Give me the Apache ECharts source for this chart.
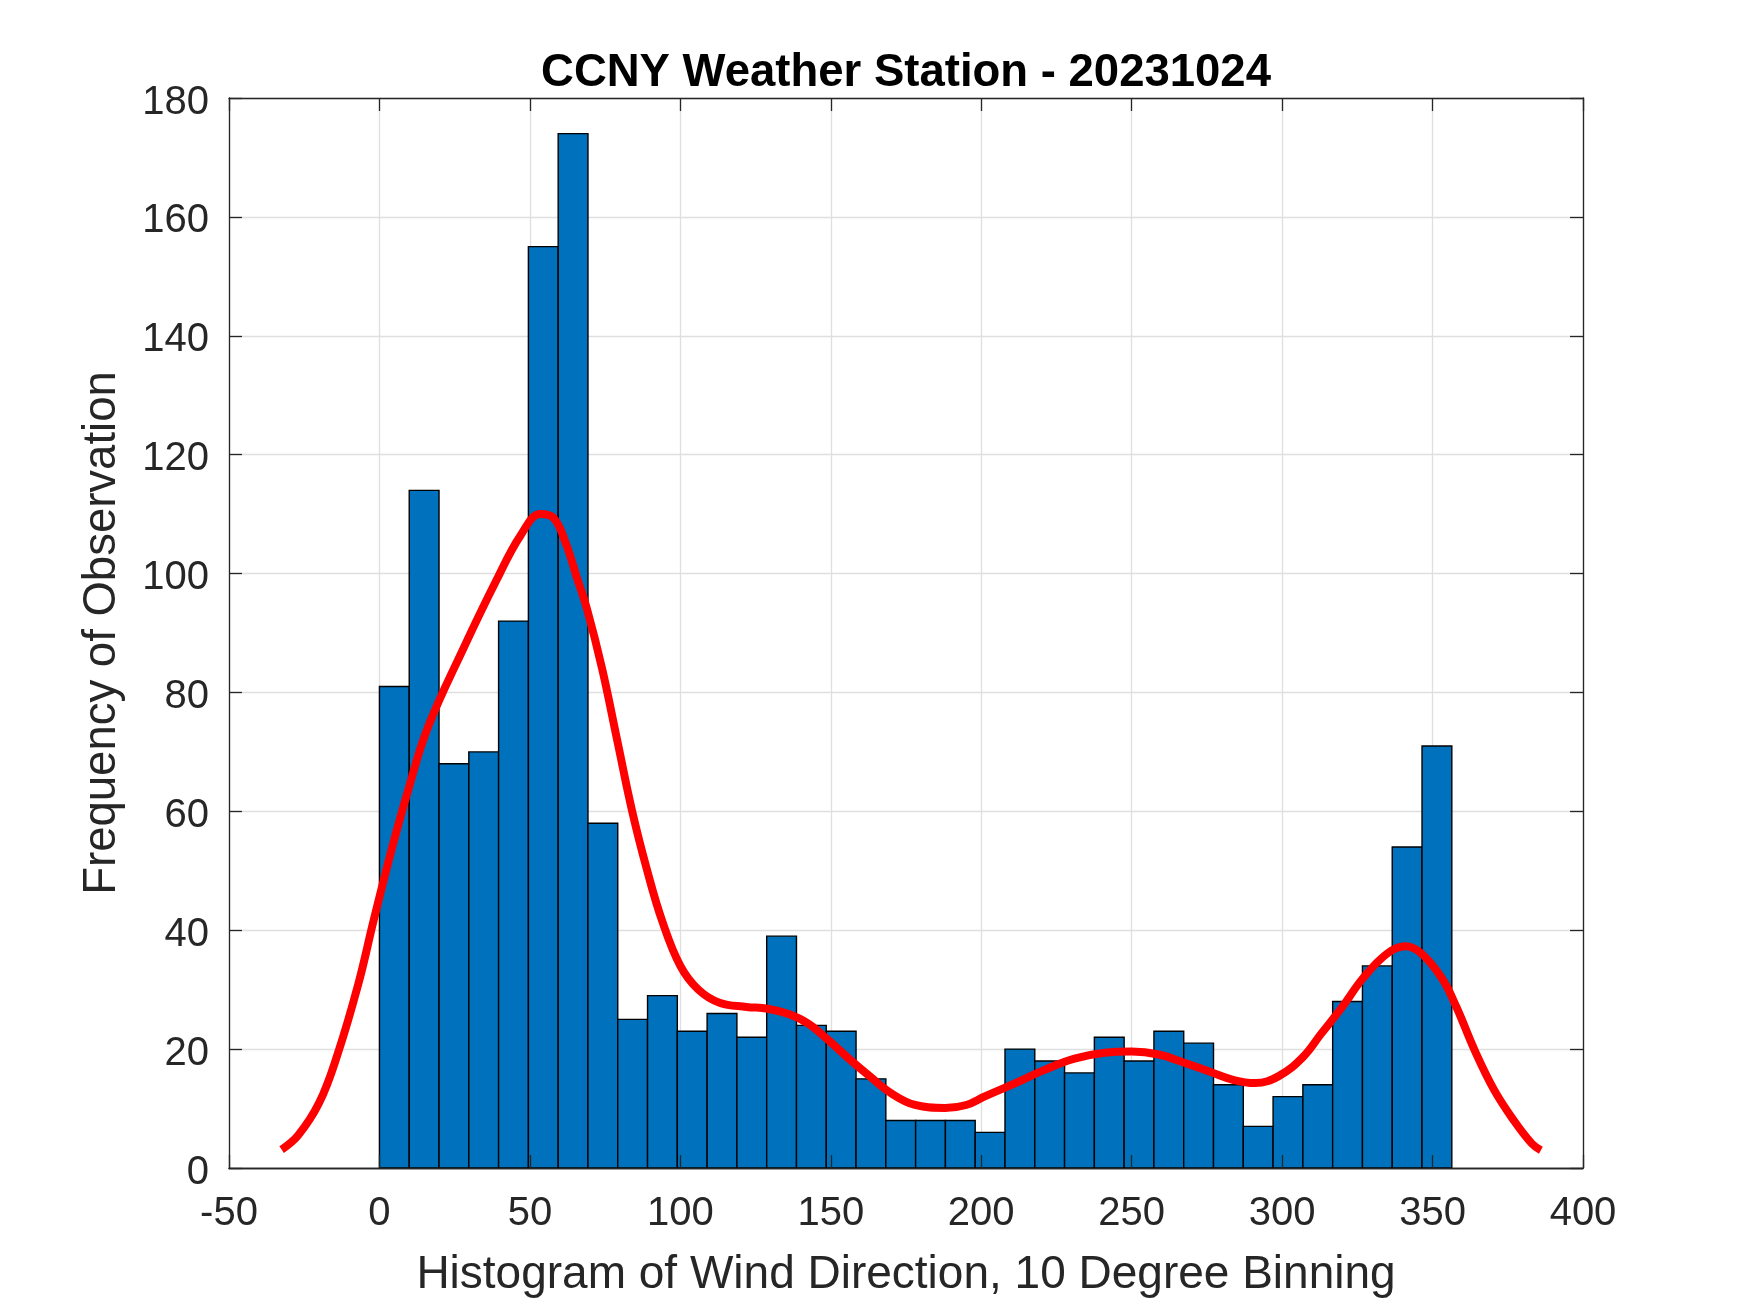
<!DOCTYPE html>
<html>
<head>
<meta charset="utf-8">
<script src="https://cdn.jsdelivr.net/npm/echarts@6/dist/echarts.min.js"></script>
<style>
html,body{margin:0;padding:0;background:#fff;}
#chart{width:1750px;height:1313px;}
</style>
</head>
<body>
<div id="chart"></div>
<script>
// Histogram bin edges (degrees) - 36 bins
const binEdges = [0, 9.9, 19.8, 29.7, 39.6, 49.5, 59.4, 69.3, 79.2, 89.1, 99, 108.9, 118.8, 128.7, 138.6, 148.5, 158.4, 168.3, 178.2, 188.1, 198, 207.9, 217.8, 227.7, 237.6, 247.5, 257.4, 267.3, 277.2, 287.1, 297, 306.9, 316.8, 326.7, 336.6, 346.5, 356.4];
// Frequency of observation per bin
const binCounts = [81, 114, 68, 70, 92, 155, 174, 58, 25, 29, 23, 26, 22, 39, 24, 23, 15, 8, 8, 8, 6, 20, 18, 16, 22, 18, 23, 21, 14, 7, 12, 14, 28, 34, 54, 71];
// Smooth fitted curve (x = degrees, y = frequency)
const curveX = [-32.5, -27, -20, -14, -7, -2, 4, 9.5, 16, 28, 39, 47, 53.5, 58, 62, 65.5, 69, 74, 79, 84, 89, 94, 100, 106, 113, 122, 129, 136, 142.5, 149, 156, 163, 170, 178, 188, 195, 201, 211, 221, 231, 241, 250, 259, 267, 276, 284, 291, 299, 307, 313, 320, 327, 335, 341, 346, 353, 358, 364, 370.5, 377, 383, 386];
const curveY = [3.1, 5.5, 11, 19, 31, 41.5, 53.5, 63.5, 74, 87.5, 99, 106.5, 110, 109.3, 105, 99.5, 94, 84, 72, 60, 50, 41.5, 34, 30, 27.8, 27.1, 26.8, 25.9, 24.3, 21.6, 18.4, 15.4, 12.6, 10.6, 10.1, 10.6, 12, 14.2, 16.5, 18.4, 19.4, 19.6, 19.1, 17.8, 16.2, 14.8, 14.3, 15.5, 18.7, 22.6, 27.1, 32, 36.1, 37.3, 36.2, 32, 27, 19.8, 13.1, 8, 4.1, 3];
// Axis ticks
const xTicks = [-50, 0, 50, 100, 150, 200, 250, 300, 350, 400];
const yTicks = [0, 20, 40, 60, 80, 100, 120, 140, 160, 180];

const titleText = 'CCNY Weather Station - 20231024';
const xLabel = 'Histogram of Wind Direction, 10 Degree Binning';
const yLabel = 'Frequency of Observation';

const FONT = "Arial, 'Liberation Sans', Helvetica, sans-serif";
const AX = '#262626';

const barData = binCounts.map((c, i) => [binEdges[i], binEdges[i + 1], c]);
const curveData = curveX.map((x, i) => [x, curveY[i]]);

const xMin = xTicks[0], xMax = xTicks[xTicks.length - 1], xInt = xTicks[1] - xTicks[0];
const yMin = yTicks[0], yMax = yTicks[yTicks.length - 1], yInt = yTicks[1] - yTicks[0];

const chart = echarts.init(document.getElementById('chart'), null, {renderer: 'canvas'});

const tickOnly = (pos, z) => ({
  type: 'value', position: pos, min: 0, max: 0, z: z,
  axisLine: {show: true, onZero: false, lineStyle: {color: AX, width: 1.3}},
  axisTick: {show: true, inside: true, length: 13, lineStyle: {color: AX, width: 1.3}},
  axisLabel: {show: false},
  splitLine: {show: false}
});

const xSec = (pos, z) => Object.assign(tickOnly(pos, z), {min: xMin, max: xMax, interval: xInt});
const ySec = (pos, z) => Object.assign(tickOnly(pos, z), {min: yMin, max: yMax, interval: yInt});

chart.setOption({
  animation: false,
  backgroundColor: '#ffffff',
  title: {
    text: titleText,
    left: 901, top: 45, textAlign: 'center',
    textStyle: {fontFamily: FONT, fontSize: 45.5, fontWeight: 'bold', color: '#000'}
  },
  grid: {left: 229, right: 167, top: 98, bottom: 145, containLabel: false},
  xAxis: [
    {
      type: 'value', position: 'bottom', min: xMin, max: xMax, interval: xInt,
      name: xLabel, nameLocation: 'middle', nameGap: 84,
      nameTextStyle: {fontFamily: FONT, fontSize: 46, color: AX},
      axisLine: {show: true, onZero: false, lineStyle: {color: AX, width: 1.3}},
      axisTick: {show: false},
      axisLabel: {show: true, margin: 26, fontFamily: FONT, fontSize: 40, color: AX},
      splitLine: {show: true, lineStyle: {color: '#dfdfdf', width: 1.3}}
    },
    xSec('top', 0),
    xSec('bottom', 10)
  ],
  yAxis: [
    {
      type: 'value', position: 'left', min: yMin, max: yMax, interval: yInt,
      name: yLabel, nameLocation: 'middle', nameGap: 104,
      nameTextStyle: {fontFamily: FONT, fontSize: 45.5, color: AX},
      axisLine: {show: true, onZero: false, lineStyle: {color: AX, width: 1.3}},
      axisTick: {show: true, inside: true, length: 13, lineStyle: {color: AX, width: 1.3}},
      axisLabel: {
        show: true, margin: 20, color: AX,
        formatter: '{t|{value}}',
        rich: {t: {fontFamily: FONT, fontSize: 40, color: AX, padding: [9, 0, 0, 0]}}
      },
      splitLine: {show: true, lineStyle: {color: '#dfdfdf', width: 1.3}}
    },
    ySec('right', 0)
  ],
  series: [
    {
      type: 'custom',
      xAxisIndex: 0, yAxisIndex: 0,
      data: barData,
      encode: {x: [0, 1], y: 2},
      z: 2,
      renderItem: function (params, api) {
        const x0 = api.value(0), x1 = api.value(1), v = api.value(2);
        const p0 = api.coord([x0, v]);
        const p1 = api.coord([x1, 0]);
        return {
          type: 'rect',
          shape: {x: p0[0], y: p0[1], width: p1[0] - p0[0], height: p1[1] - p0[1]},
          style: {fill: '#0072BD', stroke: '#000000', lineWidth: 1.4}
        };
      }
    },
    {
      type: 'line',
      xAxisIndex: 0, yAxisIndex: 0,
      data: curveData,
      smooth: 0.4,
      showSymbol: false,
      symbol: 'none',
      z: 5,
      lineStyle: {color: '#ff0000', width: 8, cap: 'butt', join: 'round'}
    }
  ]
});
</script>
</body>
</html>
